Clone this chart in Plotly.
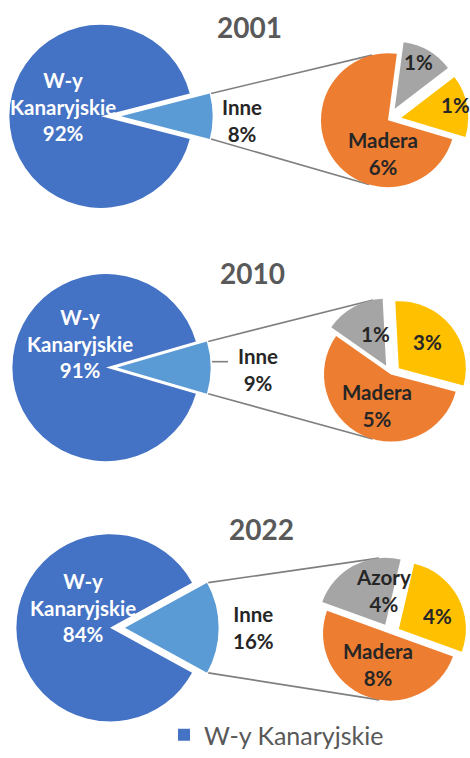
import math
import plotly.graph_objects as go

# ---------------- data ----------------
years = ["2001", "2010", "2022"]
kanary = [92, 91, 84]          # W-y Kanaryjskie, % of total
inne = [8, 9, 16]              # Inne (sum of the small pie), % of total
azory = [1.0, 1.3, 3.7]        # grey slice
pozostale = [1.2, 2.7, 4.3]    # yellow slice
madera = [5.8, 5.0, 8.0]       # orange slice
big_labels = ["Inne", "W-y Kanaryjskie"]
small_labels = ["Azory", "Pozostałe", "Madera"]
show_azory_name = [False, False, True]

# ---------------- layout / style ----------------
W, H = 470, 758
BLUE, LBLUE = "#4472C4", "#5B9BD5"
ORANGE, GREY, YELLOW = "#ED7D31", "#A5A5A5", "#FFC000"
CLEAR = "rgba(0,0,0,0)"
FONT = "Lato"
TXT = "#262626"
TITLE_C = "#595959"
LINE_C = "#7F7F7F"

geo = [
    dict(big=(101, 118, 93), pull_px=20, small=(388, 122, 68), spull=0.2, srot=7.6,
         title=(249, 27), kan=(63, 108), inn=(242, 122), mad=(383, 156), azo=(418, 63), poz=(455, 107)),
    dict(big=(106, 373, 95), pull_px=11, small=(391, 380, 68), spull=0.15, srot=-55,
         title=(252, 277), kan=(80, 349), inn=(258, 375), mad=(377, 411), azo=(375, 339), poz=(427, 347)),
    dict(big=(110, 637, 95), pull_px=15, small=(390, 643, 68), spull=0.15, srot=-70,
         title=(261, 537), kan=(83, 616), inn=(253, 637), mad=(378, 674), azo=(383, 599), poz=(437, 625)),
]


def dom(cx, cy, half):
    return dict(x=[max(0, (cx - half) / W), min(1, (cx + half) / W)],
                y=[max(0, 1 - (cy + half) / H), min(1, 1 - (cy - half) / H)])


def px(x, y):
    return x / W, 1 - y / H


def tangent(P, C, r, upper):
    vx, vy = P[0] - C[0], P[1] - C[1]
    d = math.hypot(vx, vy)
    phi = math.atan2(vy, vx)
    al = math.acos(r / d)
    c = [(C[0] + r * math.cos(phi + s * al), C[1] + r * math.sin(phi + s * al)) for s in (1, -1)]
    return min(c, key=lambda q: q[1]) if upper else max(c, key=lambda q: q[1])


fig = go.Figure()
annotations = []
shapes = []

for i, yr in enumerate(years):
    g = geo[i]
    bx, by, br = g["big"]
    pull = g["pull_px"]
    half = inne[i] / (inne[i] + kanary[i]) * 180.0
    rot = 90 - half
    vals = [inne[i], kanary[i]]
    # main pie (W-y Kanaryjskie)
    fig.add_trace(go.Pie(labels=big_labels, values=vals, sort=False, direction="clockwise",
                         rotation=rot, marker=dict(colors=[CLEAR, BLUE], line=dict(width=0)),
                         textinfo="none", hoverinfo="skip", showlegend=False,
                         domain=dom(bx, by, br)))
    # exploded "Inne" slice
    fig.add_trace(go.Pie(labels=big_labels, values=vals, sort=False, direction="clockwise",
                         rotation=rot, marker=dict(colors=[LBLUE, CLEAR], line=dict(width=0)),
                         textinfo="none", hoverinfo="skip", showlegend=False,
                         domain=dom(bx + pull, by, br)))
    # small pie
    sx, sy, sr = g["small"]
    sp = g["spull"]
    svals = [azory[i], pozostale[i], madera[i]]
    spulls = [sp, sp, 0]
    fig.add_trace(go.Pie(labels=small_labels, values=svals, sort=False, direction="clockwise",
                         rotation=g["srot"], pull=spulls,
                         marker=dict(colors=[GREY, YELLOW, ORANGE], line=dict(width=0)),
                         textinfo="none", hoverinfo="skip", showlegend=False,
                         domain=dom(sx, sy, sr * (1 + sp))))

    # connector lines (tangents from the Inne slice corners to the small pie)
    tip = bx + pull
    hr = math.radians(half)
    corners = [(tip + br * math.cos(hr), by - br * math.sin(hr)),
               (tip + br * math.cos(hr), by + br * math.sin(hr))]
    tot = sum(svals)
    spans = []
    a = g["srot"]
    for v, pl in zip(svals, spulls):
        s = v / tot * 360
        spans.append((a, s, pl))
        a += s
    for k, P in enumerate(corners):
        T = tangent(P, (sx, sy), sr, upper=(k == 0))
        theta = math.degrees(math.atan2(T[0] - sx, -(T[1] - sy))) % 360
        for st, s, pl in spans:
            if (theta - st) % 360 < s:
                if pl:
                    bis = math.radians(st + s / 2)
                    T = (T[0] + pl * sr * math.sin(bis), T[1] - pl * sr * math.cos(bis))
                break
        x0, y0 = px(*P)
        x1, y1 = px(*T)
        shapes.append(dict(type="line", xref="paper", yref="paper", x0=x0, y0=y0, x1=x1, y1=y1,
                           line=dict(color=LINE_C, width=1.6), layer="below"))

    def ann(text, pos, color, size=20.5):
        x, y = px(*pos)
        annotations.append(dict(text=text, x=x, y=y, xref="paper", yref="paper",
                                xanchor="center", yanchor="middle", showarrow=False,
                                font=dict(family=FONT, size=size, color=color)))

    ann(f"<b>{yr}</b>", g["title"], TITLE_C, 28)
    ann(f"<b>W-y<br>Kanaryjskie<br>{kanary[i]}%</b>", g["kan"], "white")
    ann(f"<b>Inne<br>{inne[i]}%</b>", g["inn"], TXT)
    ann(f"<b>Madera<br>{round(madera[i])}%</b>", g["mad"], TXT)
    az = f"Azory<br>{round(azory[i])}%" if show_azory_name[i] else f"{round(azory[i])}%"
    ann(f"<b>{az}</b>", g["azo"], TXT)
    ann(f"<b>{round(pozostale[i])}%</b>", g["poz"], TXT)

# leader line for the 2010 "Inne" label
g = geo[1]
lx = g["big"][0] + g["pull_px"] + g["big"][2]
x0, y0 = px(lx, 367)
x1, y1 = px(lx + 16, 367)
shapes.append(dict(type="line", xref="paper", yref="paper", x0=x0, y0=y0, x1=x1, y1=y1,
                   line=dict(color=LINE_C, width=1.6)))

# legend entry
fig.add_trace(go.Scatter(x=[None], y=[None], mode="markers", name="W-y Kanaryjskie",
                         marker=dict(symbol="square", size=12, color=BLUE), showlegend=True,
                         hoverinfo="skip"))

fig.update_xaxes(visible=False)
fig.update_yaxes(visible=False)
fig.update_layout(
    width=W, height=H,
    margin=dict(l=0, r=0, t=0, b=0),
    paper_bgcolor="white", plot_bgcolor="white",
    font=dict(family=FONT),
    annotations=annotations,
    shapes=shapes,
    legend=dict(x=164 / W, y=1 - 746 / H, xanchor="left", yanchor="middle",
                font=dict(family=FONT, size=25, color=TITLE_C), bgcolor=CLEAR,
                borderwidth=0),
)

fig.write_html("out.html", config={"displayModeBar": False},
               post_script="document.body.style.margin='0';document.body.style.overflow='hidden';")
